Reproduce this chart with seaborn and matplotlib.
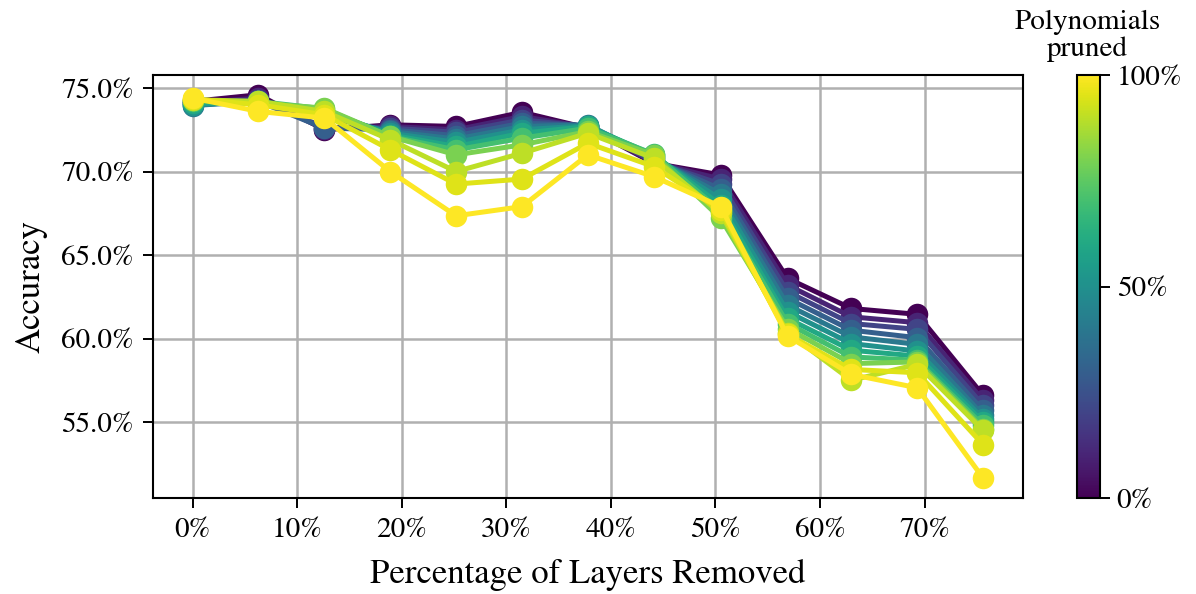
import numpy as np
import pandas as pd
import matplotlib
matplotlib.use("Agg")
import matplotlib.pyplot as plt
from matplotlib.ticker import PercentFormatter, MultipleLocator
import seaborn as sns

# Percentage of layers removed (x positions of the sweep)
layers_removed = [0.0, 6.3, 12.6, 18.9, 25.2, 31.5, 37.8, 44.1, 50.5, 56.9, 63.0, 69.3, 75.6]

# Fraction of polynomials pruned for each curve
pruned = [0.0, 0.1, 0.2, 0.3, 0.4, 0.5, 0.6, 0.7, 0.8, 0.9, 0.95, 1.0]

# Accuracy (%) for each pruning level
acc_p000 = [74.20, 74.60, 72.50, 72.80, 72.70, 73.55, 72.60, 70.50, 69.80, 63.60, 61.80, 61.45, 56.60]
acc_p010 = [74.10, 74.40, 72.55, 72.70, 72.50, 73.30, 72.65, 70.55, 69.55, 63.20, 61.30, 60.95, 56.30]
acc_p020 = [74.10, 74.30, 72.65, 72.60, 72.35, 73.10, 72.70, 70.60, 69.25, 62.80, 60.90, 60.55, 56.00]
acc_p030 = [74.00, 74.20, 72.60, 72.50, 72.15, 72.90, 72.75, 70.70, 68.95, 62.40, 60.50, 60.05, 55.70]
acc_p040 = [73.95, 74.20, 73.30, 72.40, 71.95, 72.70, 72.80, 70.80, 68.65, 62.00, 60.10, 59.65, 55.40]
acc_p050 = [74.00, 74.20, 73.50, 72.30, 71.75, 72.50, 72.75, 70.90, 68.35, 61.60, 59.70, 59.25, 55.20]
acc_p060 = [74.10, 74.10, 73.65, 72.20, 71.50, 72.30, 72.70, 71.00, 68.00, 61.20, 59.30, 58.95, 55.00]
acc_p070 = [74.20, 74.20, 73.75, 72.10, 71.30, 72.00, 72.60, 71.05, 67.65, 60.90, 58.90, 58.70, 54.80]
acc_p080 = [74.30, 74.10, 73.80, 72.10, 71.00, 71.60, 72.40, 71.00, 67.20, 60.60, 58.50, 58.60, 54.60]
acc_p090 = [74.30, 74.20, 73.60, 71.90, 70.00, 71.10, 72.30, 70.80, 67.50, 60.35, 57.50, 58.45, 54.50]
acc_p095 = [74.35, 74.00, 73.40, 71.30, 69.25, 69.55, 71.70, 70.30, 67.70, 60.25, 58.15, 57.95, 53.65]
acc_p100 = [74.40, 73.60, 73.20, 70.00, 67.35, 67.90, 71.00, 69.70, 67.90, 60.15, 57.85, 57.05, 51.65]

curves = [acc_p000, acc_p010, acc_p020, acc_p030, acc_p040, acc_p050,
          acc_p060, acc_p070, acc_p080, acc_p090, acc_p095, acc_p100]

df = pd.DataFrame({
    "layers": np.tile(layers_removed, len(pruned)),
    "accuracy": np.concatenate(curves),
    "pruned": np.repeat(pruned, len(layers_removed)),
})

sns.set_theme(style="ticks")
plt.rcParams["font.family"] = ["STIXGeneral", "DejaVu Serif"]
plt.rcParams["mathtext.fontset"] = "stix"
plt.rcParams["text.color"] = "black"
plt.rcParams["axes.labelcolor"] = "black"
plt.rcParams["xtick.color"] = "black"
plt.rcParams["ytick.color"] = "black"

fig = plt.figure(figsize=(11.96, 5.94), dpi=100)
ax = fig.add_axes([0.128, 0.1616, 0.727, 0.7121])
cax = fig.add_axes([0.9005, 0.1616, 0.0192, 0.7121])

cmap = plt.get_cmap("viridis")
norm = plt.Normalize(0, 1)

sns.lineplot(
    data=df, x="layers", y="accuracy", hue="pruned",
    palette="viridis", hue_norm=norm, legend=False,
    marker="o", markersize=15.5, markeredgewidth=0,
    linewidth=3.6, ax=ax, zorder=3,
)

ax.grid(True, color="#b0b0b0", linewidth=1.8, zorder=0)
ax.set_axisbelow(True)
ax.xaxis.set_major_locator(MultipleLocator(10))
ax.yaxis.set_major_locator(MultipleLocator(5))
ax.xaxis.set_major_formatter(PercentFormatter(100, decimals=0))
ax.yaxis.set_major_formatter(PercentFormatter(100, decimals=1))
ax.set_xlim(-3.78, 79.38)
ax.set_ylim(50.45, 75.78)

ax.set_xlabel("Percentage of Layers Removed", fontsize=25, labelpad=12)
ax.set_ylabel("Accuracy", fontsize=25, labelpad=10)
ax.tick_params(axis="both", labelsize=21, length=7, width=1.4, color="black", pad=7)
for s in ax.spines.values():
    s.set_color("black")
    s.set_linewidth(1.5)

sm = plt.cm.ScalarMappable(cmap=cmap, norm=norm)
cb = fig.colorbar(sm, cax=cax, ticks=[0, 0.5, 1.0])
cb.ax.yaxis.set_major_formatter(PercentFormatter(1.0, decimals=0))
cb.ax.tick_params(labelsize=21, length=7, width=1.4, color="black", pad=5)
cb.outline.set_edgecolor("black")
cb.outline.set_linewidth(1.5)

fig.text(0.9095, 0.8956, "Polynomials\npruned", ha="center", va="bottom",
         fontsize=21, linespacing=1.05)

fig.savefig("out.png", dpi=100)
